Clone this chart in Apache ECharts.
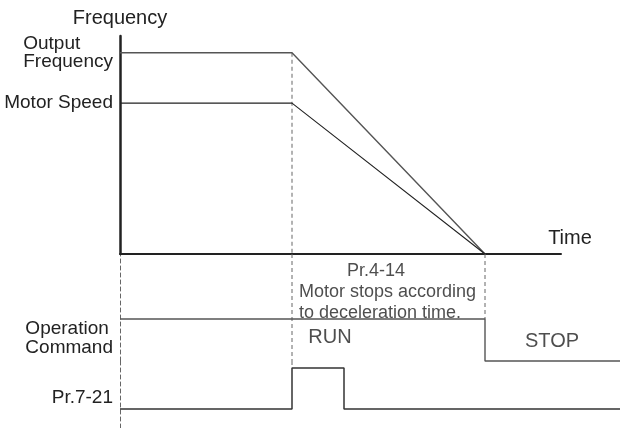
<!DOCTYPE html>
<html>
<head>
<meta charset="utf-8">
<script src="https://cdn.jsdelivr.net/npm/echarts@6/dist/echarts.min.js"></script>
<style>
  html, body { margin: 0; padding: 0; background: #ffffff; }
  #chart { width: 620px; height: 428px; }
</style>
</head>
<body>
<div id="chart"></div>
<script>
// time in arbitrary units (decel starts at tStop, motor reaches zero at tZero)
const tStop = 17.2
const tZero = 36.5
const tPulseEnd = 22.4
const tAxisEnd = 44.1
const tEnd = 50

// frequency panel (Hz)
const outputFreq = [[0, 60], [tStop, 60], [tZero, 0]]
const motorSpeed = [[0, 45], [tStop, 45], [tZero, 0]]
const freqLevels = [60, 45]
const freqLabels = ['{l|Output}\n{l|Frequency}', 'Motor Speed']

// operation command (1 = RUN, 0 = STOP)
const opCommand = [[0, 1], [tZero, 1], [tZero, 0], [tEnd, 0]]
// Pr.7-21 pulse
const pr721 = [[0, 0], [tStop, 0], [tStop, 1], [tPulseEnd, 1], [tPulseEnd, 0], [tEnd, 0]]

// dashed guides
const guideFreq = [[tStop, 60], [tStop, 0]]
const guideOpA = [[tStop, 2.55], [tStop, 0]]
const guideOpB = [[tZero, 2.55], [tZero, 1]]
const guidePr = [[tStop, 1.17], [tStop, 1]]

const textColor = '#222'
const fontFamily = '"Liberation Sans", Arial, sans-serif'
const dash = [4, 3]

const chart = echarts.init(document.getElementById('chart'))

const hiddenX = (idx, max) => ({
  type: 'value', gridIndex: idx, min: 0, max: max, show: false
})

const dashedGuide = (xi, data) => ({
  type: 'line', xAxisIndex: xi, yAxisIndex: xi, data: data, showSymbol: false, silent: true,
  lineStyle: { color: '#666', width: 1, type: dash }
})

const option = {
  animation: false,
  textStyle: { fontFamily: fontFamily, color: textColor },
  grid: [
    { left: 120, top: 36, width: 441, height: 218 },
    { left: 120, top: 254, width: 500, height: 107 },
    { left: 120, top: 361, width: 500, height: 67 }
  ],
  xAxis: [
    {
      type: 'value', gridIndex: 0, min: 0, max: tAxisEnd,
      name: 'Time', nameLocation: 'end', nameGap: 9,
      nameTextStyle: { fontSize: 20, color: textColor, align: 'center', verticalAlign: 'bottom', padding: [0, 0, 6, 0] },
      axisLine: { show: true, lineStyle: { color: '#222', width: 2 } },
      axisTick: { show: false }, axisLabel: { show: false }, splitLine: { show: false }
    },
    hiddenX(1, tEnd),
    hiddenX(2, tEnd)
  ],
  yAxis: [
    {
      type: 'value', gridIndex: 0, min: 0, max: 65,
      name: 'Frequency', nameLocation: 'end', nameGap: 8,
      nameTextStyle: { fontSize: 20, color: textColor },
      axisLine: { show: true, lineStyle: { color: '#222', width: 2.5 } },
      axisTick: { show: false }, splitLine: { show: false },
      axisLabel: {
        customValues: freqLevels,
        margin: 7, fontSize: 19, lineHeight: 18, color: textColor,
        rich: { l: { align: 'left', fontSize: 19, lineHeight: 18, color: textColor } },
        formatter: v => freqLabels[freqLevels.indexOf(v)]
      }
    },
    {
      type: 'value', gridIndex: 1, min: 0, max: 2.55,
      axisLine: { show: true, lineStyle: { color: '#666', width: 1, type: dash } },
      axisTick: { show: false }, splitLine: { show: false },
      axisLabel: {
        customValues: [0.55],
        margin: 7, fontSize: 19, lineHeight: 19, color: textColor,
        rich: { l: { align: 'left', fontSize: 19, lineHeight: 19, color: textColor } },
        formatter: () => '{l|Operation}\n{l|Command}'
      }
    },
    {
      type: 'value', gridIndex: 2, min: -0.46, max: 1.17,
      axisLine: { show: true, lineStyle: { color: '#666', width: 1, type: dash } },
      axisTick: { show: false }, splitLine: { show: false },
      axisLabel: {
        customValues: [0.27],
        margin: 7, fontSize: 19, color: textColor,
        formatter: () => 'Pr.7-21'
      }
    }
  ],
  series: [
    dashedGuide(0, guideFreq),
    dashedGuide(1, guideOpA),
    dashedGuide(1, guideOpB),
    dashedGuide(2, guidePr),
    {
      name: 'Output Frequency', type: 'line', xAxisIndex: 0, yAxisIndex: 0, data: outputFreq,
      showSymbol: false, silent: true, lineStyle: { color: '#555', width: 1.4 }
    },
    {
      name: 'Motor Speed', type: 'line', xAxisIndex: 0, yAxisIndex: 0, data: motorSpeed,
      showSymbol: false, silent: true, lineStyle: { color: '#222', width: 1.1 }
    },
    {
      name: 'Operation Command', type: 'line', xAxisIndex: 1, yAxisIndex: 1, data: opCommand,
      showSymbol: false, silent: true, clip: false, lineStyle: { color: '#555', width: 1.4 }
    },
    {
      name: 'Pr.7-21', type: 'line', xAxisIndex: 2, yAxisIndex: 2, data: pr721,
      showSymbol: false, silent: true, lineStyle: { color: '#333', width: 1.5 }
    },
    // text annotations
    {
      type: 'scatter', xAxisIndex: 1, yAxisIndex: 1, symbolSize: 0, silent: true,
      label: { show: true, position: 'inside', formatter: '{b}', color: textColor, fontSize: 20 },
      data: [
        { name: 'RUN', value: [21, 0.55] },
        { name: 'STOP', value: [43.2, 0.46] }
      ]
    },
    {
      type: 'scatter', xAxisIndex: 1, yAxisIndex: 1, symbolSize: 0, silent: true,
      label: { show: true, position: 'inside', formatter: '{b}', color: textColor, fontSize: 18 },
      data: [{ name: 'Pr.4-14', value: [25.6, 2.15] }]
    },
    {
      type: 'scatter', xAxisIndex: 1, yAxisIndex: 1, symbolSize: 0, silent: true,
      label: {
        show: true, position: 'inside', formatter: '{b}', color: textColor,
        fontSize: 18, lineHeight: 21, align: 'left'
      },
      data: [{ name: 'Motor stops according\nto deceleration time.', value: [17.9, 1.4] }]
    }
  ]
}

chart.setOption(option)
window.addEventListener('resize', () => chart.resize())
</script>
</body>
</html>
